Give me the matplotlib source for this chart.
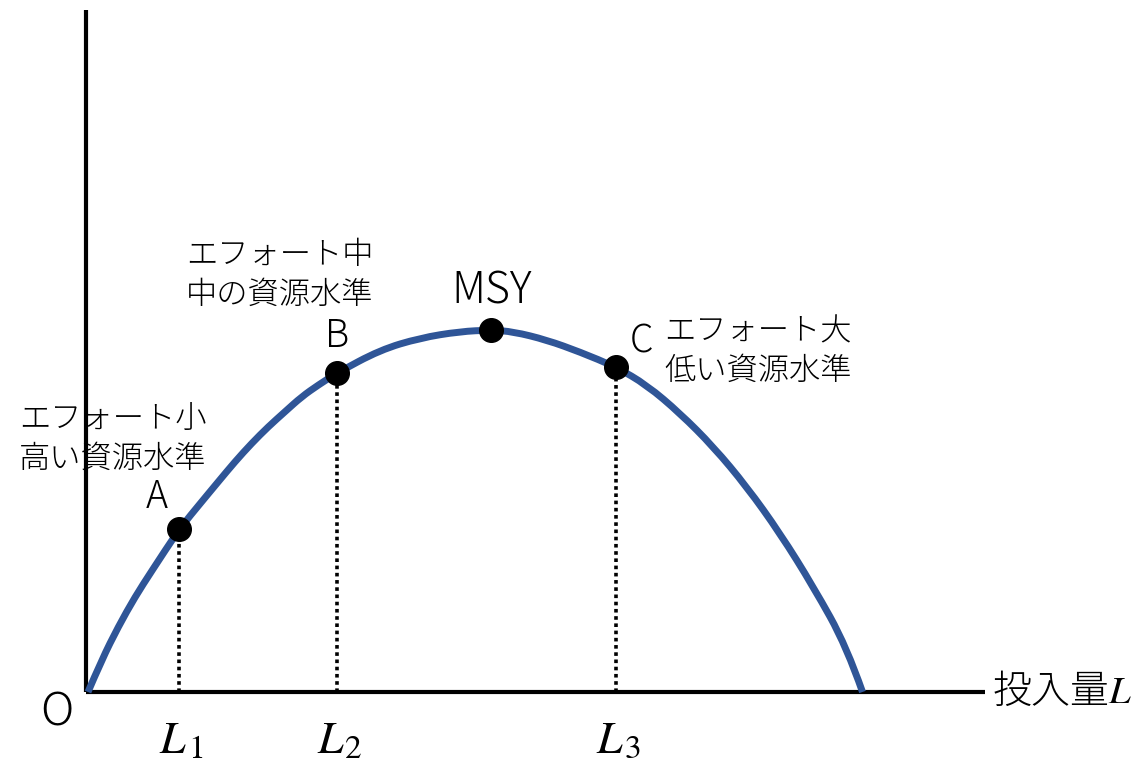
import matplotlib
matplotlib.use("Agg")
import matplotlib.pyplot as plt
from matplotlib.path import Path
from matplotlib.patches import PathPatch

plt.rcParams['font.family'] = ['Noto Sans CJK JP', 'DejaVu Sans']
plt.rcParams['mathtext.fontset'] = 'stix'

# Curve (effort L vs yield)
curve_L = [0.000, 0.137, 0.303, 0.470, 0.637, 0.913, 1.137, 1.303, 1.470, 1.637,
           1.803, 1.970, 2.137, 2.303, 2.490, 2.920, 3.320, 3.720, 4.030, 4.253,
           4.587, 4.920, 5.280, 5.587, 5.920, 6.253, 6.587, 6.920, 7.253, 7.587, 7.745]
curve_Y = [0.000, 0.320, 0.653, 0.950, 1.210, 1.630, 1.903, 2.103, 2.303, 2.487,
           2.653, 2.803, 2.953, 3.070, 3.190, 3.420, 3.540, 3.605, 3.620, 3.603,
           3.520, 3.400, 3.250, 3.070, 2.787, 2.453, 2.053, 1.587, 1.053, 0.453, 0.000]

# Marked points
point_names = ['A', 'B', 'MSY', 'C']
point_L = [0.913, 2.490, 4.030, 5.280]
point_Y = [1.630, 3.190, 3.620, 3.250]

# Dotted drop lines (A, B, C) and their tick labels
drop_L = [0.913, 2.490, 5.280]
drop_Y = [1.630, 3.190, 3.250]
drop_subs = ['1', '2', '3']

fig = plt.figure(figsize=(11.45, 7.66), dpi=100)
ax = fig.add_axes([0, 0, 1, 1])
ax.set_xlim(-0.88, 10.57)
ax.set_ylim(-0.74, 6.92)
ax.axis('off')

# axes lines
ax.plot([-0.02, -0.02], [0, 6.82], color='black', lw=3.0, solid_capstyle='butt', zorder=2)
ax.plot([-0.02, 8.97], [0, 0], color='black', lw=3.0, solid_capstyle='butt', zorder=2)

# smooth curve via quadratic bezier through midpoints
verts = [(curve_L[0], curve_Y[0])]
codes = [Path.MOVETO]
n = len(curve_L)
for i in range(1, n - 1):
    mx = (curve_L[i] + curve_L[i + 1]) / 2
    my = (curve_Y[i] + curve_Y[i + 1]) / 2
    if i == n - 2:
        mx, my = curve_L[i + 1], curve_Y[i + 1]
    verts += [(curve_L[i], curve_Y[i]), (mx, my)]
    codes += [Path.CURVE3, Path.CURVE3]
patch = PathPatch(Path(verts, codes), facecolor='none', edgecolor='#2F5597',
                  lw=5.0, capstyle='butt', zorder=3)
ax.add_patch(patch)

# dotted drop lines
for x, y in zip(drop_L, drop_Y):
    ax.plot([x, x], [0, y], color='black', lw=2.6, linestyle=(0, (1, 1)), zorder=2)

# markers
ax.plot(point_L, point_Y, 'o', color='black', markersize=17, zorder=4)

# point labels
lab_kw = dict(ha='center', va='center', fontweight='light')
ax.text(0.69, 1.95, 'A', fontsize=27, **lab_kw)
ax.text(2.49, 3.56, 'B', fontsize=27, **lab_kw)
ax.text(4.04, 4.01, 'MSY', fontsize=31, **lab_kw)
ax.text(5.53, 3.50, 'C', fontsize=27, **lab_kw)

# descriptions
desc_kw = dict(fontsize=22.5, ha='left', va='center', linespacing=1.32, fontweight='light')
ax.text(-0.69, 2.53, 'エフォート小\n高い資源水準', **desc_kw)
ax.text(0.98, 4.17, 'エフォート中\n中の資源水準', **desc_kw)
ax.text(5.76, 3.41, 'エフォート大\n低い資源水準', **desc_kw)

# origin and axis label
ax.text(-0.31, -0.21, 'O', fontsize=33, ha='center', va='center', fontweight='light')
ax.text(9.04, 0.0, '投入量$L$', fontsize=28, ha='left', va='center', fontweight='light')

# tick labels: italic L with a large upright subscript digit
for x, sub in zip(drop_L, drop_subs):
    ax.text(x - 0.06, -0.61, '$L$', fontsize=33, ha='center', va='baseline')
    ax.text(x + 0.085, -0.66, sub, fontsize=24, ha='left', va='baseline',
            family='STIXGeneral')

fig.savefig('out.png', dpi=100)
